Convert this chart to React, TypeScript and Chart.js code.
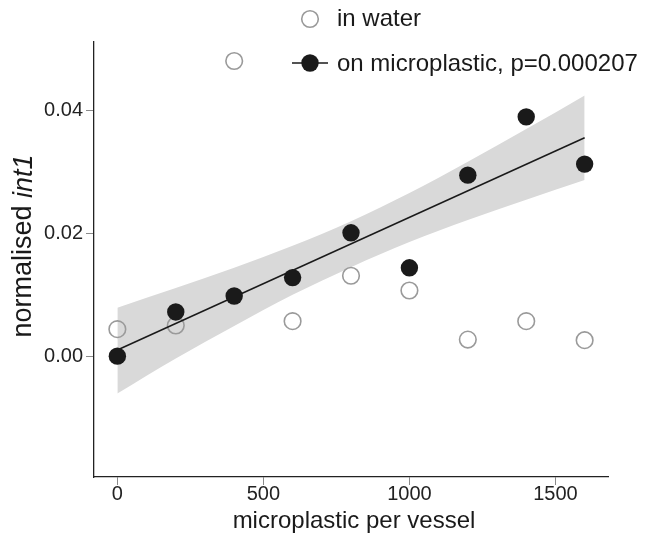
import React, { useEffect, useRef } from "react";
import { Chart, registerables } from "chart.js";

Chart.register(...registerables);

// ---- data ----
const xValues = [0, 200, 400, 600, 800, 1000, 1200, 1400, 1600];
const waterValues = [0.0044, 0.005, 0.0481, 0.0057, 0.0131, 0.0107, 0.0027, 0.0057, 0.0026];
const plasticValues = [0.0, 0.0072, 0.0098, 0.0128, 0.0201, 0.0144, 0.0295, 0.039, 0.0313];
const fitX = [0, 1600];
const fitY = [0.001, 0.0356];
const bandX = [0, 200, 400, 600, 800, 1000, 1200, 1400, 1600];
const bandUpper = [0.0079, 0.0111, 0.0144, 0.018, 0.022, 0.0266, 0.0317, 0.037, 0.0425];
const bandLower = [-0.0061, -0.0004, 0.0049, 0.01, 0.0145, 0.0186, 0.0222, 0.0255, 0.0287];
const xTicks = [0, 500, 1000, 1500];
const yTicks = [0, 0.02, 0.04];
const legendLabels = ["in water", "on microplastic, p=0.000207"];
const xTitle = "microplastic per vessel";
const yTitleMain = "normalised ";
const yTitleItalic = "int1";

const FONT = '"Liberation Sans", Arial, Helvetica, sans-serif';
const DARK = "#1a1a1a";
const OPEN = "#9a9a9a";

const textPlugin = {
  id: "customText",
  afterDraw(chart: any) {
    const ctx = chart.ctx as CanvasRenderingContext2D;
    const area = chart.chartArea;
    ctx.save();
    // legend
    ctx.lineWidth = 1.6;
    ctx.strokeStyle = OPEN;
    ctx.beginPath();
    ctx.arc(310, 19, 8.3, 0, Math.PI * 2);
    ctx.stroke();
    ctx.strokeStyle = DARK;
    ctx.lineWidth = 1.5;
    ctx.beginPath();
    ctx.moveTo(292, 63);
    ctx.lineTo(328, 63);
    ctx.stroke();
    ctx.fillStyle = DARK;
    ctx.beginPath();
    ctx.arc(310, 63, 8.7, 0, Math.PI * 2);
    ctx.fill();
    ctx.font = `24px ${FONT}`;
    ctx.textAlign = "left";
    ctx.textBaseline = "middle";
    ctx.fillText(legendLabels[0], 337, 19);
    ctx.fillText(legendLabels[1], 337, 64);

    // x title
    ctx.textAlign = "center";
    ctx.fillText(xTitle, (area.left + area.right) / 2 + 3, 521);

    // y title (mixed roman / italic)
    ctx.translate(24, 246);
    ctx.rotate(-Math.PI / 2);
    const fMain = `27px ${FONT}`;
    const fItal = `italic 27px ${FONT}`;
    ctx.font = fMain;
    const w1 = ctx.measureText(yTitleMain).width;
    ctx.font = fItal;
    const w2 = ctx.measureText(yTitleItalic).width;
    const start = -(w1 + w2) / 2;
    ctx.textAlign = "left";
    ctx.font = fMain;
    ctx.fillText(yTitleMain, start, 0);
    ctx.font = fItal;
    ctx.fillText(yTitleItalic, start + w1, 0);
    ctx.restore();
  },
};

export default function App() {
  const ref = useRef<HTMLCanvasElement | null>(null);
  useEffect(() => {
    if (!ref.current) return;
    const chart = new Chart(ref.current, {
      type: "scatter",
      data: {
        datasets: [
          {
            label: "band upper",
            data: bandX.map((x, i) => ({ x, y: bandUpper[i] })),
            showLine: true,
            fill: "+1",
            backgroundColor: "#d9d9d9",
            borderWidth: 0,
            borderColor: "rgba(0,0,0,0)",
            pointRadius: 0,
            cubicInterpolationMode: "monotone",
            order: 6,
          },
          {
            label: "band lower",
            data: bandX.map((x, i) => ({ x, y: bandLower[i] })),
            showLine: true,
            fill: false,
            borderWidth: 0,
            borderColor: "rgba(0,0,0,0)",
            pointRadius: 0,
            cubicInterpolationMode: "monotone",
            order: 5,
          },
          {
            label: legendLabels[0],
            data: xValues.map((x, i) => ({ x, y: waterValues[i] })),
            pointRadius: 8.3,
            pointBorderWidth: 1.6,
            pointBorderColor: OPEN,
            pointBackgroundColor: "rgba(0,0,0,0)",
            order: 4,
          },
          {
            label: "fit",
            data: fitX.map((x, i) => ({ x, y: fitY[i] })),
            showLine: true,
            borderColor: DARK,
            borderWidth: 1.5,
            pointRadius: 0,
            fill: false,
            order: 3,
          },
          {
            label: legendLabels[1],
            data: xValues.map((x, i) => ({ x, y: plasticValues[i] })),
            pointRadius: 8.7,
            pointBorderWidth: 0,
            pointBackgroundColor: DARK,
            order: 1,
          },
        ],
      } as any,
      options: {
        responsive: false,
        animation: false,
        layout: { padding: { left: 0, right: 41, top: 42, bottom: 0 } },
        plugins: { legend: { display: false }, tooltip: { enabled: false } },
        scales: {
          x: {
            type: "linear",
            min: -80,
            max: 1680,
            afterFit: (s: any) => {
              s.height = 59;
            },
            afterBuildTicks: (s: any) => {
              s.ticks = xTicks.map((v) => ({ value: v }));
            },
            border: { display: true, color: "#222", width: 1.3 },
            grid: { drawOnChartArea: false, drawTicks: true, tickLength: 8, color: "#8a8a8a", lineWidth: 1 },
            ticks: {
              color: "#222",
              font: { family: FONT, size: 20 },
              padding: -3,
              maxRotation: 0,
              callback: (v: any) => String(v),
            },
          },
          y: {
            type: "linear",
            min: -0.0197,
            max: 0.0512,
            afterFit: (s: any) => {
              s.width = 94;
            },
            afterBuildTicks: (s: any) => {
              s.ticks = yTicks.map((v) => ({ value: v }));
            },
            border: { display: true, color: "#222", width: 1.3 },
            grid: { drawOnChartArea: false, drawTicks: true, tickLength: 8, color: "#8a8a8a", lineWidth: 1 },
            ticks: {
              color: "#222",
              font: { family: FONT, size: 20 },
              padding: 3,
              callback: (v: any) => Number(v).toFixed(2),
            },
          },
        },
      } as any,
      plugins: [textPlugin],
    });
    return () => chart.destroy();
  }, []);
  return (
    <div style={{ position: "absolute", left: 0, top: 0, width: 649, height: 536, background: "#fff" }}>
      <canvas ref={ref} width={649} height={536} style={{ display: "block" }} />
    </div>
  );
}
